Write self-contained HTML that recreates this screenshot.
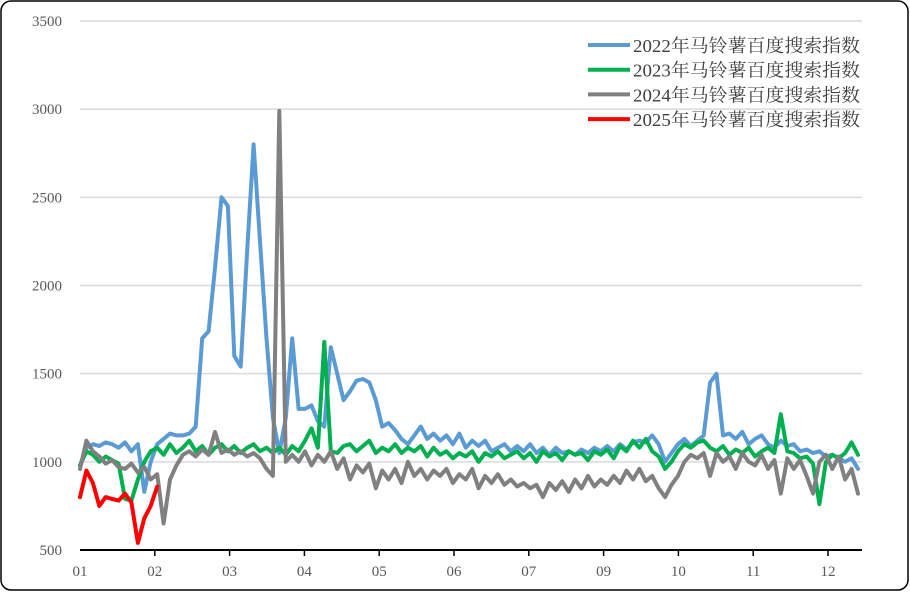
<!DOCTYPE html>
<html><head><meta charset="utf-8"><style>
html,body{margin:0;padding:0;background:#fff;}
svg text{font-family:"Liberation Serif","Noto Serif CJK SC",serif;}
</style></head><body>
<svg id="chart" width="910" height="592" viewBox="0 0 910 592" xmlns="http://www.w3.org/2000/svg">
<rect x="1" y="1" width="907" height="589" rx="10" fill="#fff" stroke="#000" stroke-width="1.5"/>
<g id="grid"></g>
<g id="yaxis"></g>
<g id="xaxis"></g>
<g id="series"></g>
<g id="legend"></g>
</svg>
<script>
const yTicks=[500,1000,1500,2000,2500,3000,3500];
const xLabels=["01","02","03","04","05","06","07","09","10","11","12"];
const seriesNames=["2022年马铃薯百度搜索指数","2023年马铃薯百度搜索指数","2024年马铃薯百度搜索指数","2025年马铃薯百度搜索指数"];
const s2022=[980,1080,1100,1090,1110,1100,1080,1110,1060,1100,
830,1000,1100,1130,1160,1150,1150,1160,1200,1700,
1740,2100,2500,2450,1600,1540,2200,2800,2250,1700,
1250,1050,1250,1700,1300,1300,1320,1230,1200,1650,
1500,1350,1400,1460,1470,1450,1350,1200,1220,1180,
1130,1100,1150,1200,1130,1160,1120,1150,1100,1160,
1080,1120,1090,1120,1060,1080,1100,1060,1090,1060,
1100,1050,1080,1040,1080,1050,1060,1040,1070,1050,
1080,1060,1090,1060,1100,1070,1110,1120,1110,1150,
1100,1000,1050,1100,1130,1090,1120,1150,1450,1500,
1150,1160,1130,1170,1100,1130,1150,1100,1080,1120,
1090,1100,1060,1070,1050,1060,1030,1040,1020,1000,
1020,960];
const s2023=[980,1060,1040,1000,1030,1010,990,790,780,900,
1000,1060,1080,1040,1100,1050,1080,1120,1060,1090,
1040,1080,1100,1060,1090,1050,1080,1100,1060,1080,
1050,1080,1040,1090,1060,1120,1190,1080,1680,1060,
1050,1090,1100,1060,1090,1120,1050,1080,1060,1100,
1050,1080,1060,1090,1030,1080,1040,1060,1020,1050,
1030,1060,1000,1050,1030,1060,1020,1040,1060,1020,
1050,1000,1060,1030,1050,1010,1060,1040,1050,1010,
1060,1040,1070,1020,1090,1060,1120,1080,1130,1060,
1030,960,1000,1060,1100,1080,1110,1120,1080,1060,
1090,1040,1070,1050,1080,1030,1060,1080,1050,1270,
1060,1050,1020,1030,990,760,1000,1040,1020,1050,
1110,1040];
const s2024=[960,1120,1060,1030,990,1010,970,960,990,940,
970,900,930,650,900,980,1040,1060,1030,1070,
1040,1170,1050,1070,1040,1060,1030,1050,1020,960,
920,2990,1000,1040,1000,1060,980,1040,1000,1060,
960,1020,900,980,940,990,850,950,900,960,
880,1000,920,960,900,950,920,960,880,930,
900,960,850,920,880,930,870,900,860,880,
850,870,800,880,840,890,830,900,850,920,
860,900,870,920,880,950,900,960,890,920,
850,800,870,920,1000,1040,1020,1050,920,1050,
1000,1030,960,1050,1000,980,1040,960,1010,820,
1020,960,1010,920,820,1000,1040,960,1030,900,
960,820];
const s2025=[800,950,880,750,800,790,780,820,770,540,680,750,860];
const colors=["#5B9BD5","#00B050","#808080","#FF0000"];
const NS="http://www.w3.org/2000/svg";
const L=80,R=862,T=21,B=550;
const y=v=>B-(v-500)*(B-T)/3000;
const x=i=>L+i*(778/121);
function mk(tag,attrs,parent){const e=document.createElementNS(NS,tag);for(const k in attrs)e.setAttribute(k,attrs[k]);parent.appendChild(e);return e;}
const grid=document.getElementById('grid'),ya=document.getElementById('yaxis'),xa=document.getElementById('xaxis');
yTicks.forEach(v=>{
  if(v>500){const g=mk('line',{x1:L,x2:R,y1:y(v),y2:y(v),stroke:'#d9d9d9','stroke-width':1.5},grid);
  
  }
  const t=mk('text',{x:62,y:y(v)+5,'text-anchor':'end','font-size':15,fill:'#595959'},ya);
  t.textContent=v;
  
  
});
const ax=mk('line',{x1:L,x2:R,y1:B,y2:B,stroke:'#000','stroke-width':2},xa);


const mstep=74.8;
xLabels.forEach((lab,i)=>{
  const px=L+i*mstep;
  if(i>0){const tk=mk('line',{x1:px,x2:px,y1:B,y2:B+6,stroke:'#000','stroke-width':1.5},xa);
  
  }
  const t=mk('text',{x:px,y:B+26,'text-anchor':'middle','font-size':15,fill:'#595959'},xa);
  t.textContent=lab;
  
  
});
const sg=document.getElementById('series');
[s2022,s2023,s2024,s2025].forEach((arr,si)=>{
  const d=arr.map((v,i)=>(i?'L':'M')+x(i).toFixed(1)+','+y(v).toFixed(1)).join('');
  const p=mk('path',{d:d,fill:'none',stroke:colors[si],'stroke-width':4,'stroke-linejoin':'round','stroke-linecap':'round'},sg);
  
  
});
const lg=document.getElementById('legend');
seriesNames.forEach((n,i)=>{
  const yy=45+i*24.7;
  const ln=mk('line',{x1:588,x2:630,y1:yy,y2:yy,stroke:colors[i],'stroke-width':4},lg);
  
  
  const t=mk('text',{x:633,y:yy+7,'font-size':18,fill:'#404040',textLength:227,lengthAdjust:'spacingAndGlyphs'},lg);
  t.textContent=n;
  
  
});
</script>
</body></html>
